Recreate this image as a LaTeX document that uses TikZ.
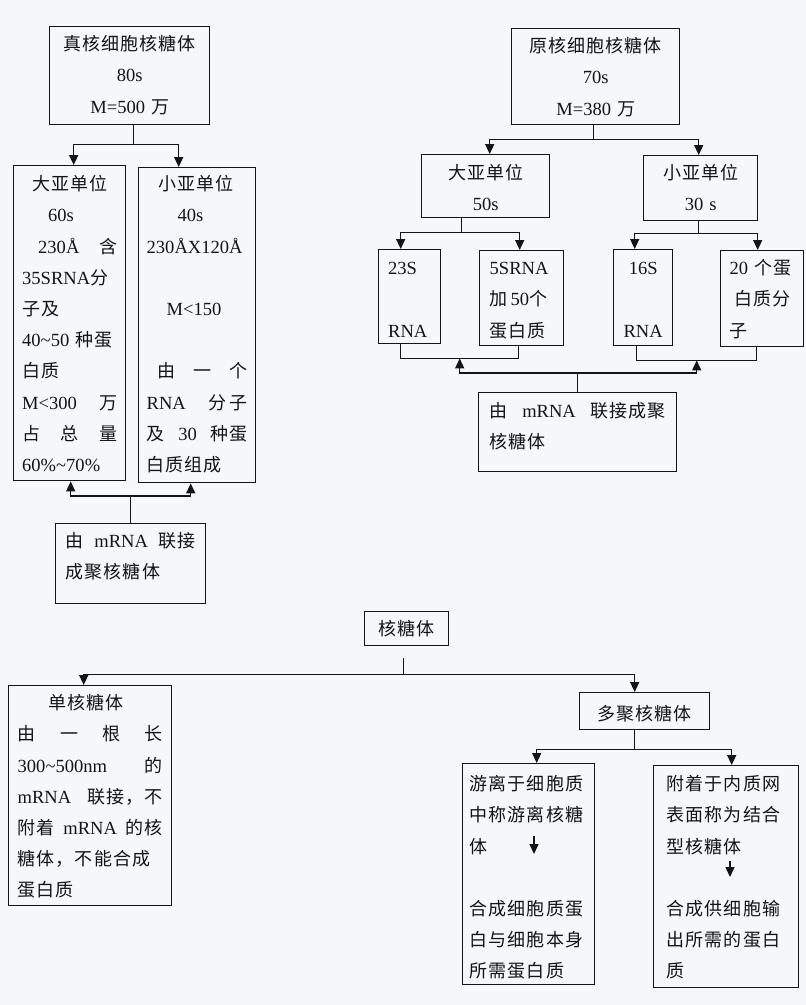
\documentclass[tikz,border=0pt]{standalone}
\usepackage{fontspec}
\setmainfont{Noto Sans CJK SC}[LetterSpace=6]
\newfontfamily\latfont{Liberation Serif}[Scale=1.03]
\newcommand{\lat}[1]{{\latfont #1}}
\usetikzlibrary{arrows.meta}
\definecolor{paper}{RGB}{244,248,251}
\definecolor{ink}{RGB}{20,20,20}

\begin{document}
\begin{tikzpicture}[x=1pt, y=-1pt,
				box/.style={
					draw=ink, line width=1.4pt, anchor=north west,
					inner xsep=#1, inner ysep=0pt, align=left, text=ink,
					font=\fontsize{18}{31.2}\selectfont
				},
				box/.default=8pt,
				line/.style={draw=ink, line width=1.5pt},
				link/.style={line, -{Triangle[length=10pt,width=9pt]}}
				]
				\useasboundingbox (0,0) rectangle (806,1005);
				\fill[paper] (0,0) rectangle (806,1005);
				
				\node[box=6pt, align=center, text width=148pt, text height=24pt, text depth=74pt] (euk) at (49,26)
				{真核细胞核糖体\\\lat{80s}\\\lat{M=500} 万};
				\node[box=8.5pt, text width=95pt, text height=25pt, text depth=290pt] (eukL) at (13,165)
				{\hspace*{10pt}大亚单位\\
				\hspace*{26pt}\lat{60s}\\
				\hspace*{16pt}\lat{230Å}\hfill 含\\
				\lat{35SRNA}分\\
				子及\\
				\lat{40\textasciitilde 50} 种蛋\\
				白质\\
				\lat{M<300}\hfill 万\\
				占\hfill 总\hfill 量\\
				\lat{60\%\textasciitilde 70\%}};
				\node[box=8pt, text width=101pt, text height=23pt, text depth=292pt] (eukS) at (138,167)
				{\hspace*{12pt}小亚单位\\
				\hspace*{31pt}\lat{40s}\\
				\lat{230ÅX120Å}\\
				\mbox{}\\
				\hspace*{20pt}\lat{M<150}\\
				\mbox{}\\
				\hspace*{11pt}由\hfill 一\hfill 个\\
				\lat{RNA}\hfill 分\,子\\
				及\hfill\lat{30}\hfill 种蛋\\
				白质组成};
				\node[box=10pt, text width=130pt, text height=24pt, text depth=56pt] (eukM) at (55,523)
				{由\hfill\lat{mRNA}\hfill 联接\\成聚核糖体};
				
				\draw[link] ([xshift=4pt]euk.south) -- ++(0,-19pt) -| ([xshift=4pt]eukL.north);
				\draw[link] ([xshift=4pt]euk.south) -- ++(0,-19pt) -| ([xshift=-18.5pt]eukS.north);
				\draw[link] (eukM.north) -- ++(0,27pt) -| ([xshift=1pt]eukL.south);
				\draw[link] (eukM.north) -- ++(0,27pt) -| ([xshift=-6.5pt]eukS.south);
				
				\node[box=6pt, align=center, text width=156pt, text height=24pt, text depth=72pt] (pro) at (511,28)
				{原核细胞核糖体\\\lat{70s}\\\lat{M=380} 万};
				\node[box=6pt, align=center, text width=116pt, text height=25pt, text depth=38pt] (proL) at (421,154)
				{大亚单位\\\lat{50s}};
				\node[box=6pt, align=center, text width=102pt, text height=24pt, text depth=41pt] (proS) at (643,155)
				{小亚单位\\\lat{30 s}};
				\node[box=9.5pt, text width=43pt, text height=25pt, text depth=69pt] (r23) at (378,249)
				{\lat{23S}\\\mbox{}\\\lat{RNA}};
				\node[box=10pt, text width=64pt, text height=24pt, text depth=71pt] (r5) at (479,250)
				{\lat{5SRNA}\\加\,\lat{50}个\\蛋白质};
				\node[box=5pt, align=center, text width=49pt, text height=25pt, text depth=71pt] (r16) at (613,249)
				{\lat{16S}\\\mbox{}\\\lat{RNA}};
				\node[box=9pt, text width=65pt, text height=24pt, text depth=72pt] (p20) at (720,250)
				{\lat{20} 个蛋\\\hspace*{5pt}白质分\\子};
				\node[box=11pt, text width=176pt, text height=25pt, text depth=54pt] (proM) at (478,392)
				{由\hfill\lat{mRNA}\hfill 联接成聚\\核糖体};
				
				\draw[link] ([xshift=-2pt]pro.south) -- ++(0,-14pt) -| ([xshift=4pt]proL.north);
				\draw[link] ([xshift=-2pt]pro.south) -- ++(0,-14pt) -| ([xshift=-2pt]proS.north);
				\draw[link] ([xshift=-24pt]proL.south) -- ++(0,-14pt) -| ([xshift=-9pt]r23.north);
				\draw[link] ([xshift=-24pt]proL.south) -- ++(0,-14pt) -| ([xshift=-2pt]r5.north);
				\draw[link] ([xshift=-2pt]proS.south) -- ++(0,-12pt) -| ([xshift=-8.5pt]r16.north);
				\draw[link] ([xshift=-2pt]proS.south) -- ++(0,-12pt) -| ([xshift=-4.5pt]p20.north);
				\draw[line] ([xshift=-9pt]r23.south) -- ++(0,-14pt) -| coordinate[pos=0.25] (j1) ([xshift=-3pt]r5.south);
				\draw[line] ([xshift=-6.5pt]r16.south) -- ++(0,-14pt) -| coordinate[pos=0.25] (j2) ([xshift=-5.5pt]p20.south);
				\draw[link] (proM.north) -- ++(0,19pt) -| (j1);
				\draw[link] (proM.north) -- ++(0,19pt) -| (j2);
				
				\node[box=6pt, align=center, text width=72pt, text height=24pt, text depth=10pt] (hub) at (364,611)
				{核糖体};
				\node[box=9pt, text width=145pt, text height=24pt, text depth=196pt] (mono) at (8,685)
				{\hspace*{31pt}单核糖体\\
				由\hfill 一\hfill 根\hfill 长\\
				\lat{300\textasciitilde 500nm}\hfill 的\\
				\lat{mRNA}\hfill 联接，不\\
				附着\hfill\lat{mRNA}\hfill 的核\\
				糖体，不能合成\\
				蛋白质};
				\node[box=6pt, align=center, text width=118pt, text height=28pt, text depth=9pt] (poly) at (579,692)
				{多聚核糖体};
				\node[box=7pt, text width=118pt, text height=27pt, text depth=194pt] (free) at (462,763)
				{游离于细胞质\\中称游离核糖\\体\\\mbox{}\\合成细胞质蛋\\白与细胞本身\\所需蛋白质};
				\node[box=13pt, text width=119pt, text height=25pt, text depth=197pt] (bound) at (653,765)
				{附着于内质网\\表面称为结合\\型核糖体\\\mbox{}\\合成供细胞输\\出所需的蛋白\\质};
				
				\draw[link, shorten <=12pt] ([xshift=-3pt]hub.south) -- ++(0,-28pt) -| ([xshift=-6.5pt]mono.north);
				\draw[link, shorten <=12pt] ([xshift=-3pt]hub.south) -- ++(0,-28pt) -| ([xshift=-10pt]poly.north);
				\draw[link] ([xshift=-10pt]poly.south) -- ++(0,-19pt) -| ([xshift=8pt]free.north);
				\draw[link] ([xshift=-10pt]poly.south) -- ++(0,-19pt) -| ([xshift=5.5pt]bound.north);
				
				\coordinate (f1) at (534,836);
				\coordinate (f2) at (534,854);
				\coordinate (g1) at (730,861);
				\coordinate (g2) at (730,877);
				\draw[link] (f1) -- (f2);
				\draw[link] (g1) -- (g2);
			\end{tikzpicture}
\end{document}
